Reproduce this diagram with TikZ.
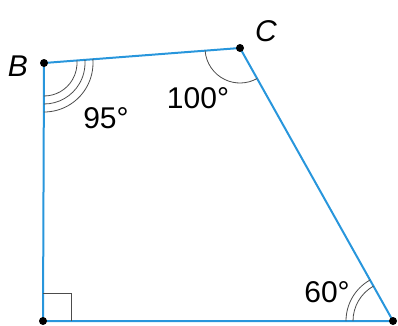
\documentclass[tikz,border=0pt]{standalone}
\usepackage{fontspec}
\setmainfont{Liberation Sans}
\usetikzlibrary{angles,calc}
\definecolor{edgeblue}{RGB}{40,150,220}
\tikzset{
  side/.style={edgeblue, line width=2pt},
  mark arc/.style={draw=black!70, line width=0.8pt},
  lbl/.style={font=\fontsize{30}{34}\selectfont, inner sep=0pt}
}
\begin{document}
\begin{tikzpicture}[x=1pt, y=1pt]
\useasboundingbox (0,0) rectangle (398,325);
\coordinate (A) at (43,4);
\coordinate (B) at (44,262);
\coordinate (C) at (240,277);
\coordinate (D) at (393,4);
%Sides

\draw[side] (A) -- (B) -- (C) -- (D) -- cycle;

\pic[mark arc, angle radius=33] {angle = A--B--C};
\pic[mark arc, angle radius=41] {angle = A--B--C};
\pic[mark arc, angle radius=49] {angle = A--B--C};
\pic[mark arc, angle radius=35] {angle = B--C--D};
\pic[mark arc, angle radius=40] {angle = C--D--A};
\pic[mark arc, angle radius=47] {angle = C--D--A};
\draw[mark arc] ($(A)+(28,0)$) -- ++(0,28) -- ++(-28,0);
%Angle marks

\fill (A) circle(4);
\fill (B) circle(4);
\fill (C) circle(4);
\fill (D) circle(4);
\node[lbl, font=\fontsize{30}{34}\selectfont\itshape] (labB) at (18,259) {B};
\node[lbl, font=\fontsize{30}{34}\selectfont\itshape] (labC) at (266,294) {C};
%Vertices

\node[lbl] (angB) at (106,207) {95°};
\node[lbl] (angC) at (198,227) {100°};
\node[lbl] (angD) at (327,33) {60°};
\end{tikzpicture}
\end{document}
